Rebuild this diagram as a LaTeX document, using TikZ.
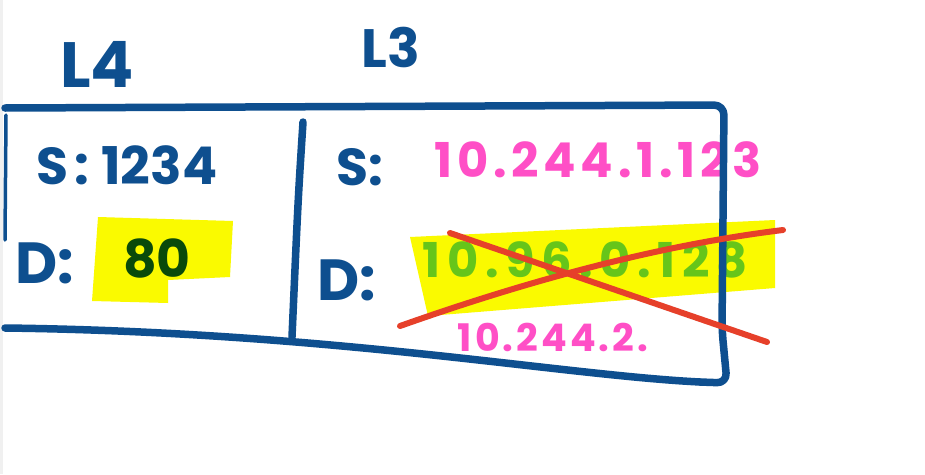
\documentclass[tikz,border=0pt]{standalone}
\usepackage{fontspec}
\setmainfont{Poppins}
\usetikzlibrary{positioning}

\definecolor{penblue}{HTML}{0E4F8F}
\definecolor{penpink}{HTML}{FF4FC6}
\definecolor{penlime}{HTML}{66C51A}
\definecolor{pendark}{HTML}{0A4A0A}
\definecolor{hiyellow}{HTML}{FAFA00}
\definecolor{penred}{HTML}{E6402A}

\begin{document}
\begin{tikzpicture}[x=1pt, y=-1pt,
  hand/.style={inner sep=0pt, text=penblue, font=\fontsize{52}{52}\selectfont\bfseries},
  spaced/.style={font=\fontsize{48}{48}\selectfont\bfseries\addfontfeature{LetterSpace=10}},
  pen/.style={draw=penblue, line width=7.5pt, line cap=round, line join=round},
  cross/.style={draw=penred, line width=6pt, line cap=round},
  marker/.style={fill=hiyellow}
]
\useasboundingbox[fill=white] (0,0) rectangle (925,474);
\fill[black!6] (0,0) rectangle (3,474);

% highlighter
\fill[marker] (98,217) -- (233,221) -- (230,277) -- (168,280) -- (168,303) -- (92,301) -- cycle;
\fill[marker] (410,237) -- (775,220) -- (775,288) -- (428,316) -- cycle;

% layer titles
\node[hand, font=\fontsize{64}{64}\selectfont\bfseries] (l4) at (97,64) {L4};
\node[hand, font=\fontsize{54}{54}\selectfont\bfseries] (l3) at (391,47) {L3};

% L4 header
\node[hand] (srcport) at (127,165) {S\hspace{6pt}:\hspace{12pt}1234};
\node[hand, font=\fontsize{58}{58}\selectfont\bfseries] (dstlbl) at (45,263) {D:};
\node[hand, text=pendark] (dstport) at (157,258) {80};

% L3 header
\node[hand] (srclbl) at (360,167) {S:};
\node[hand, spaced, text=penpink] (srcip) at (598,160) {10.244.1.123};
\node[hand, font=\fontsize{58}{58}\selectfont\bfseries] (dstlbl3) at (347,280) {D:};
\node[hand, spaced, font=\fontsize{48}{48}\selectfont\bfseries\addfontfeature{LetterSpace=14}, text=penlime] (dstip) at (585,260) {10.96.0.128};
\node[hand, font=\fontsize{38}{38}\selectfont\bfseries\addfontfeature{LetterSpace=8}, text=penpink] (newip) at (553,337) {10.244.2.};

% packet outline
\draw[pen, rounded corners=10pt] (5,108) -- (724,105) -- (722,330) -- (727,383) -- (700,382);
\draw[pen] (700,382) .. controls (560,375) and (330,332) .. (5,328);
\draw[pen, line width=3.5pt] (6,115) -- (5,240);
\draw[pen] (303,122) .. controls (298,200) .. (292,337);

% rewritten destination
\draw[cross] (450,233) -- (767,342);
\draw[cross] (400,326) .. controls (530,280) and (660,245) .. (783,230);
\end{tikzpicture}
\end{document}
